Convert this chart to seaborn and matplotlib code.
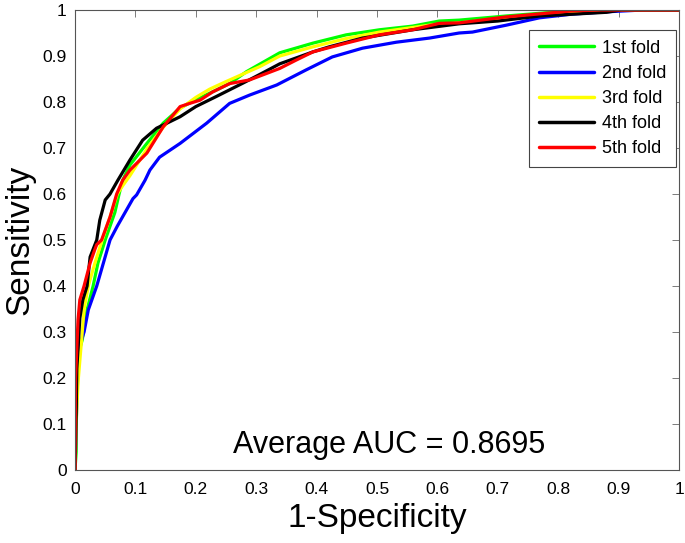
import pandas as pd
import matplotlib
matplotlib.use("Agg")
import matplotlib.pyplot as plt
import seaborn as sns

# ROC points, one pair of lists per fold
fold1_fpr = [0, 0.002, 0.002, 0.005, 0.012, 0.02, 0.03, 0.038, 0.05, 0.066, 0.073, 0.079, 0.091,
             0.119, 0.146, 0.174, 0.2, 0.234, 0.256, 0.284, 0.339, 0.394, 0.449, 0.504, 0.559,
             0.603, 0.636, 0.714, 0.78, 0.86, 1.0]
fold1_tpr = [0, 0.04, 0.224, 0.25, 0.283, 0.348, 0.4, 0.45, 0.5, 0.56, 0.6, 0.63, 0.663,
             0.71, 0.754, 0.787, 0.805, 0.826, 0.84, 0.866, 0.907, 0.928, 0.946, 0.957, 0.965,
             0.976, 0.978, 0.987, 0.994, 1.0, 1.0]

fold2_fpr = [0, 0.003, 0.006, 0.01, 0.015, 0.022, 0.036, 0.047, 0.058, 0.07, 0.083, 0.096, 0.102,
             0.116, 0.124, 0.14, 0.174, 0.218, 0.256, 0.289, 0.334, 0.383, 0.426, 0.476, 0.532,
             0.587, 0.636, 0.658, 0.714, 0.769, 0.823, 0.879, 0.94, 1.0]
fold2_tpr = [0, 0.15, 0.25, 0.28, 0.3, 0.348, 0.4, 0.45, 0.5, 0.53, 0.56, 0.59, 0.598,
             0.63, 0.652, 0.68, 0.71, 0.754, 0.797, 0.815, 0.837, 0.87, 0.898, 0.917, 0.93,
             0.939, 0.95, 0.952, 0.967, 0.983, 0.991, 0.996, 1.0, 1.0]

fold3_fpr = [0, 0.002, 0.005, 0.012, 0.015, 0.022, 0.033, 0.045, 0.058, 0.07, 0.08, 0.091, 0.12,
             0.146, 0.174, 0.2, 0.223, 0.251, 0.306, 0.339, 0.394, 0.449, 0.504, 0.587, 0.636,
             0.7, 0.77, 0.82, 0.905, 1.0]
fold3_tpr = [0, 0.1, 0.19, 0.3, 0.35, 0.4, 0.45, 0.5, 0.55, 0.6, 0.62, 0.64, 0.7,
             0.745, 0.785, 0.81, 0.828, 0.845, 0.877, 0.9, 0.92, 0.938, 0.952, 0.967, 0.972,
             0.98, 0.99, 0.995, 1.0, 1.0]

fold4_fpr = [0, 0.002, 0.003, 0.008, 0.013, 0.02, 0.025, 0.036, 0.041, 0.05, 0.058, 0.071, 0.091,
             0.112, 0.135, 0.146, 0.174, 0.2, 0.234, 0.278, 0.306, 0.339, 0.394, 0.421, 0.476,
             0.559, 0.636, 0.7, 0.77, 0.88, 0.904, 1.0]
fold4_tpr = [0, 0.12, 0.22, 0.33, 0.37, 0.4, 0.463, 0.5, 0.543, 0.587, 0.6, 0.63, 0.674,
             0.717, 0.743, 0.75, 0.768, 0.79, 0.812, 0.841, 0.86, 0.883, 0.909, 0.92, 0.939,
             0.957, 0.97, 0.976, 0.987, 0.995, 1.0, 1.0]

fold5_fpr = [0, 0.001, 0.005, 0.008, 0.015, 0.025, 0.033, 0.036, 0.044, 0.058, 0.069, 0.079,
             0.091, 0.119, 0.146, 0.174, 0.19, 0.207, 0.228, 0.256, 0.289, 0.339, 0.366, 0.394,
             0.449, 0.504, 0.559, 0.603, 0.636, 0.714, 0.823, 0.87, 1.0]
fold5_tpr = [0, 0.2, 0.326, 0.37, 0.4, 0.45, 0.48, 0.49, 0.5, 0.55, 0.6, 0.63,
             0.652, 0.689, 0.746, 0.79, 0.797, 0.804, 0.822, 0.84, 0.848, 0.873, 0.891, 0.909,
             0.928, 0.946, 0.957, 0.971, 0.972, 0.985, 0.998, 1.0, 1.0]

fold_names = ["1st fold", "2nd fold", "3rd fold", "4th fold", "5th fold"]
fold_colors = ["#00ff00", "#0000ff", "#ffff00", "#000000", "#ff0000"]
avg_auc = 0.8695

# long-form table for seaborn
frames = []
for name, fpr, tpr in zip(fold_names,
                          [fold1_fpr, fold2_fpr, fold3_fpr, fold4_fpr, fold5_fpr],
                          [fold1_tpr, fold2_tpr, fold3_tpr, fold4_tpr, fold5_tpr]):
    frames.append(pd.DataFrame({"fpr": fpr, "tpr": tpr, "fold": name}))
df = pd.concat(frames, ignore_index=True)

sns.set_style("white")
plt.rcParams["font.family"] = ["Liberation Sans", "DejaVu Sans"]
plt.rcParams["text.color"] = "black"
plt.rcParams["axes.labelcolor"] = "black"

fig = plt.figure(figsize=(6.85, 5.43), dpi=100)
ax = fig.add_axes([75 / 685, 73 / 543, 604 / 685, 460 / 543])

sns.lineplot(data=df, x="fpr", y="tpr", hue="fold", hue_order=fold_names,
             palette=dict(zip(fold_names, fold_colors)), estimator=None, sort=False,
             linewidth=2.3, ax=ax)

ax.set_xlim(0, 1)
ax.set_ylim(0, 1)
ticks = [i / 10 for i in range(11)]
ax.set_xticks(ticks)
ax.set_yticks(ticks)
ax.set_xticklabels(["0"] + [f"{t:.1f}" for t in ticks[1:-1]] + ["1"])
ax.set_yticklabels(["0"] + [f"{t:.1f}" for t in ticks[1:-1]] + ["1"])
ax.tick_params(direction="in", length=5, width=0.6, color="#666666", labelcolor="black",
               labelsize=12.5, top=True, right=True)
ax.tick_params(axis="x", pad=9)
ax.tick_params(axis="y", pad=6)
for sp in ax.spines.values():
    sp.set_color("#555555")
    sp.set_linewidth(0.8)

ax.set_xlabel("1-Specificity", fontsize=24, labelpad=4)
ax.set_ylabel("Sensitivity", fontsize=24, labelpad=5)

ax.text(0.52, 0.055, f"Average AUC = {avg_auc}", fontsize=22, ha="center", va="center")

leg = ax.legend(loc="upper right", bbox_to_anchor=(0.995, 0.957), borderaxespad=0,
                fontsize=13, frameon=True, fancybox=False, edgecolor="#444444",
                framealpha=1, handlelength=3.0, handletextpad=0.45, labelspacing=0.45,
                borderpad=0.55)
leg.get_frame().set_linewidth(0.8)
for line in leg.get_lines():
    line.set_linewidth(2.5)

fig.savefig("out.png", dpi=100)
